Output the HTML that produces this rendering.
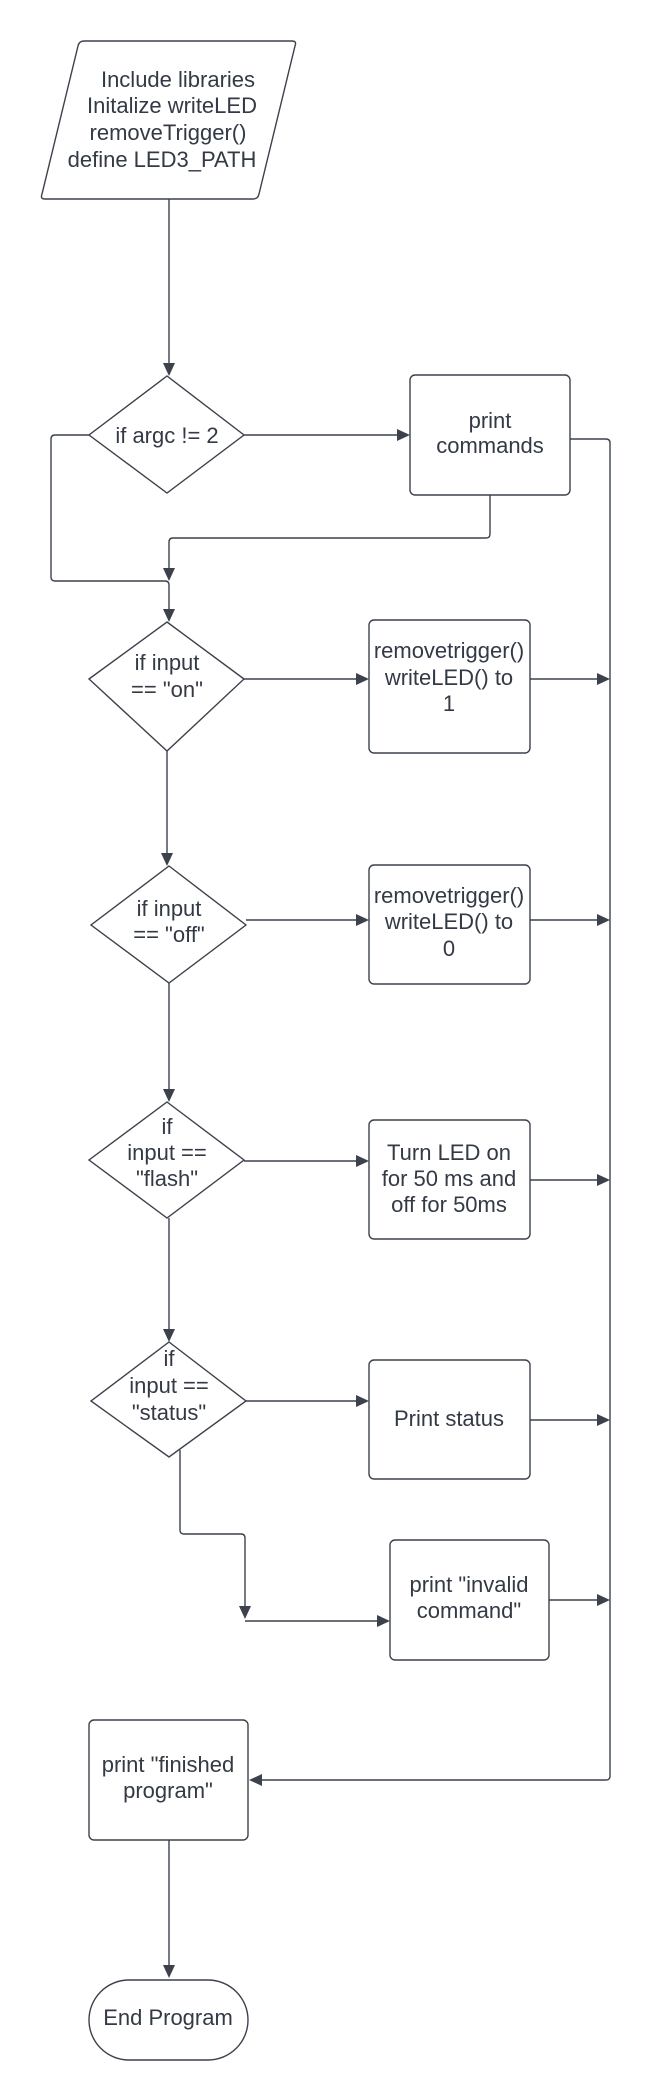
<!DOCTYPE html>
<html><head><meta charset="utf-8"><style>
html,body{margin:0;padding:0;background:#fff;}
svg{display:block;}
text{font-family:"Liberation Sans",Arial,sans-serif;font-size:22px;fill:#333a45;text-anchor:middle;}
.s{fill:none;stroke:#3c414c;stroke-width:1.4;}
.b{fill:#fff;stroke:#3c414c;stroke-width:1.4;}
.a{fill:#3c414c;}
</style></head><body>
<svg width="651" height="2100" viewBox="0 0 651 2100" xmlns="http://www.w3.org/2000/svg">
<path class="b" d="M84,41 L292,41 Q297,41 295,46 L259,194 Q258,199 253,199 L45,199 Q40,199 42,194 L78,46 Q79,41 84,41 Z"/>
<text x="178" y="87">Include libraries</text>
<text x="172" y="113">Initalize writeLED</text>
<text x="168" y="140">removeTrigger()</text>
<text x="162" y="167">define LED3_PATH</text>
<path class="s" d="M169,199 V364"/>
<path class="a" d="M163,363 L175,363 L169,376 Z"/>
<path class="b" d="M167,376 L244,435 L167,493 L89,435 Z"/>
<text x="167" y="443">if argc != 2</text>
<path class="s" d="M244,435 H398"/>
<path class="a" d="M397,429 L410,435 L397,441 Z"/>
<rect class="b" x="410" y="375" width="160" height="120" rx="5"/>
<text x="490" y="428">print</text>
<text x="490" y="453">commands</text>
<path class="s" d="M570,439 H606 Q610,439 610,443 V1776 Q610,1780 606,1780 H262"/>
<path class="a" d="M262,1774 L249,1780 L262,1786 Z"/>
<path class="s" d="M490,495 V534 Q490,538 486,538 H173 Q169,538 169,542 V569"/>
<path class="a" d="M163,568 L175,568 L169,581 Z"/>
<path class="s" d="M89,435 H55 Q51,435 51,439 V577 Q51,581 55,581 H165 Q169,581 169,585 V610"/>
<path class="a" d="M163,609 L175,609 L169,622 Z"/>
<path class="b" d="M167,622 L244,679 L167,751 L89,679 Z"/>
<text x="167" y="670">if input</text>
<text x="167" y="697">== "on"</text>
<path class="s" d="M244,679 H356"/>
<path class="a" d="M356,673 L369,679 L356,685 Z"/>
<rect class="b" x="369" y="620" width="161" height="133" rx="5"/>
<text x="449" y="658">removetrigger()</text>
<text x="449" y="685">writeLED() to</text>
<text x="449" y="711">1</text>
<path class="s" d="M530,679 H598"/>
<path class="a" d="M597,673 L610,679 L597,685 Z"/>
<path class="s" d="M167,751 V854"/>
<path class="a" d="M161,853 L173,853 L167,866 Z"/>
<path class="b" d="M169,866 L246,925 L169,983 L91,925 Z"/>
<text x="169" y="916">if input</text>
<text x="169" y="942">== "off"</text>
<path class="s" d="M246,920 H356"/>
<path class="a" d="M356,914 L369,920 L356,926 Z"/>
<rect class="b" x="369" y="865" width="161" height="119" rx="5"/>
<text x="449" y="903">removetrigger()</text>
<text x="449" y="929">writeLED() to</text>
<text x="449" y="956">0</text>
<path class="s" d="M530,920 H598"/>
<path class="a" d="M597,914 L610,920 L597,926 Z"/>
<path class="s" d="M169,983 V1090"/>
<path class="a" d="M163,1089 L175,1089 L169,1102 Z"/>
<path class="b" d="M167,1102 L244,1160 L167,1218 L89,1160 Z"/>
<text x="167" y="1134">if</text>
<text x="167" y="1160">input ==</text>
<text x="167" y="1186">"flash"</text>
<path class="s" d="M244,1161 H356"/>
<path class="a" d="M356,1155 L369,1161 L356,1167 Z"/>
<rect class="b" x="369" y="1120" width="161" height="119" rx="5"/>
<text x="449" y="1160">Turn LED on</text>
<text x="449" y="1186">for 50 ms and</text>
<text x="449" y="1212">off for 50ms</text>
<path class="s" d="M530,1180 H598"/>
<path class="a" d="M597,1174 L610,1180 L597,1186 Z"/>
<path class="s" d="M169,1218 V1330"/>
<path class="a" d="M163,1329 L175,1329 L169,1342 Z"/>
<path class="b" d="M169,1342 L246,1401 L169,1457 L91,1401 Z"/>
<text x="169" y="1366">if</text>
<text x="169" y="1393">input ==</text>
<text x="169" y="1420">"status"</text>
<path class="s" d="M246,1401 H356"/>
<path class="a" d="M356,1395 L369,1401 L356,1407 Z"/>
<rect class="b" x="369" y="1360" width="161" height="119" rx="5"/>
<text x="449" y="1426">Print status</text>
<path class="s" d="M530,1420 H598"/>
<path class="a" d="M597,1414 L610,1420 L597,1426 Z"/>
<path class="s" d="M180,1450 V1530 Q180,1534 184,1534 H241 Q245,1534 245,1538 V1607"/>
<path class="a" d="M239,1606 L251,1606 L245,1619 Z"/>
<path class="s" d="M245,1621 H377"/>
<path class="a" d="M377,1615 L390,1621 L377,1627 Z"/>
<rect class="b" x="390" y="1540" width="159" height="120" rx="5"/>
<text x="469" y="1592">print "invalid</text>
<text x="469" y="1618">command"</text>
<path class="s" d="M549,1600 H598"/>
<path class="a" d="M597,1594 L610,1600 L597,1606 Z"/>
<rect class="b" x="89" y="1720" width="159" height="120" rx="5"/>
<text x="168" y="1772">print "finished</text>
<text x="168" y="1798">program"</text>
<path class="s" d="M169,1840 V1966"/>
<path class="a" d="M163,1965 L175,1965 L169,1978 Z"/>
<rect class="b" x="89" y="1980" width="159" height="80" rx="40"/>
<text x="168" y="2025">End Program</text>
</svg>
</body></html>
